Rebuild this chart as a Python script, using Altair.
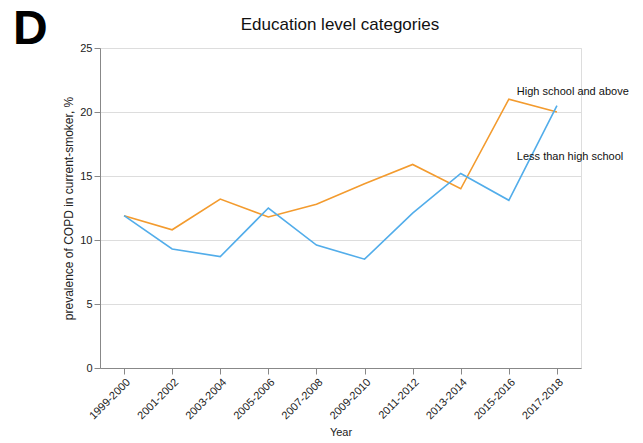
import altair as alt
import pandas as pd

years = ["1999-2000", "2001-2002", "2003-2004", "2005-2006", "2007-2008",
         "2009-2010", "2011-2012", "2013-2014", "2015-2016", "2017-2018"]
high_school_above = [11.9, 10.8, 13.2, 11.8, 12.8, 14.4, 15.9, 14.0, 21.0, 20.0]
less_than_high = [11.9, 9.3, 8.7, 12.5, 9.6, 8.5, 12.1, 15.2, 13.1, 20.5]

series_names = ["High school and above", "Less than high school"]
series_colors = ["#F39B2E", "#52ADEA"]

# where each series name is written
label_year = ["2015-2016", "2015-2016"]
label_value = [21.6, 16.5]

FONT = "Liberation Sans"

rows = []
for y, a, b in zip(years, high_school_above, less_than_high):
    rows.append({"Year": y, "value": a, "group": series_names[0]})
    rows.append({"Year": y, "value": b, "group": series_names[1]})
df = pd.DataFrame(rows)

labels = pd.DataFrame({"Year": label_year, "value": label_value, "group": series_names})

x_enc = alt.X("Year:N", sort=years, title="Year",
              scale=alt.Scale(type="point", padding=0.5),
              axis=alt.Axis(labelAngle=-45, labelAlign="right", labelBaseline="top",
                            grid=False, tickSize=6, domainColor="#888888",
                            tickColor="#888888", labelColor="#222222",
                            titleColor="#222222", labelFontSize=11,
                            titleFontSize=11, titleFontWeight="normal",
                            labelFont=FONT, titleFont=FONT, titlePadding=6))
y_enc = alt.Y("value:Q", title="prevalence of COPD in current-smoker, %",
              scale=alt.Scale(domain=[0, 25], nice=False),
              axis=alt.Axis(values=[0, 5, 10, 15, 20, 25], tickSize=6,
                            gridColor="#dddddd", domainColor="#888888",
                            tickColor="#888888", labelColor="#222222",
                            titleColor="#222222", labelFontSize=11,
                            titleFontSize=12, titleFontWeight="normal",
                            labelFont=FONT, titleFont=FONT, labelPadding=2,
                            titlePadding=4))
color_enc = alt.Color("group:N", scale=alt.Scale(domain=series_names, range=series_colors),
                      legend=None)

lines = alt.Chart(df).mark_line(strokeWidth=1.6).encode(
    x=x_enc, y=y_enc, color=color_enc, detail="group:N")

names = alt.Chart(labels).mark_text(align="left", baseline="middle", dx=8,
                                    font=FONT, fontSize=11, color="#111111").encode(
    x=alt.X("Year:N", sort=years), y="value:Q", text="group:N")

panel = alt.Chart(pd.DataFrame({"t": ["D"]})).mark_text(
    align="left", baseline="alphabetic", font=FONT, fontSize=48,
    fontWeight="bold", color="#000000").encode(
    x=alt.value(-87), y=alt.value(-4), text="t:N")

heading = alt.Chart(pd.DataFrame({"t": ["Education level categories"]})).mark_text(
    align="center", baseline="alphabetic", font=FONT, fontSize=17,
    color="#111111").encode(
    x=alt.value(240), y=alt.value(-18), text="t:N")

chart = alt.layer(lines, names, panel, heading).properties(
    width=481, height=320,
    autosize=alt.AutoSizeParams(type="none"),
    padding={"left": 100, "top": 48, "right": 62, "bottom": 75},
).configure_view(stroke=None).configure(background="white")

chart.save("out.html", embed_options={"renderer": "svg", "actions": False})
